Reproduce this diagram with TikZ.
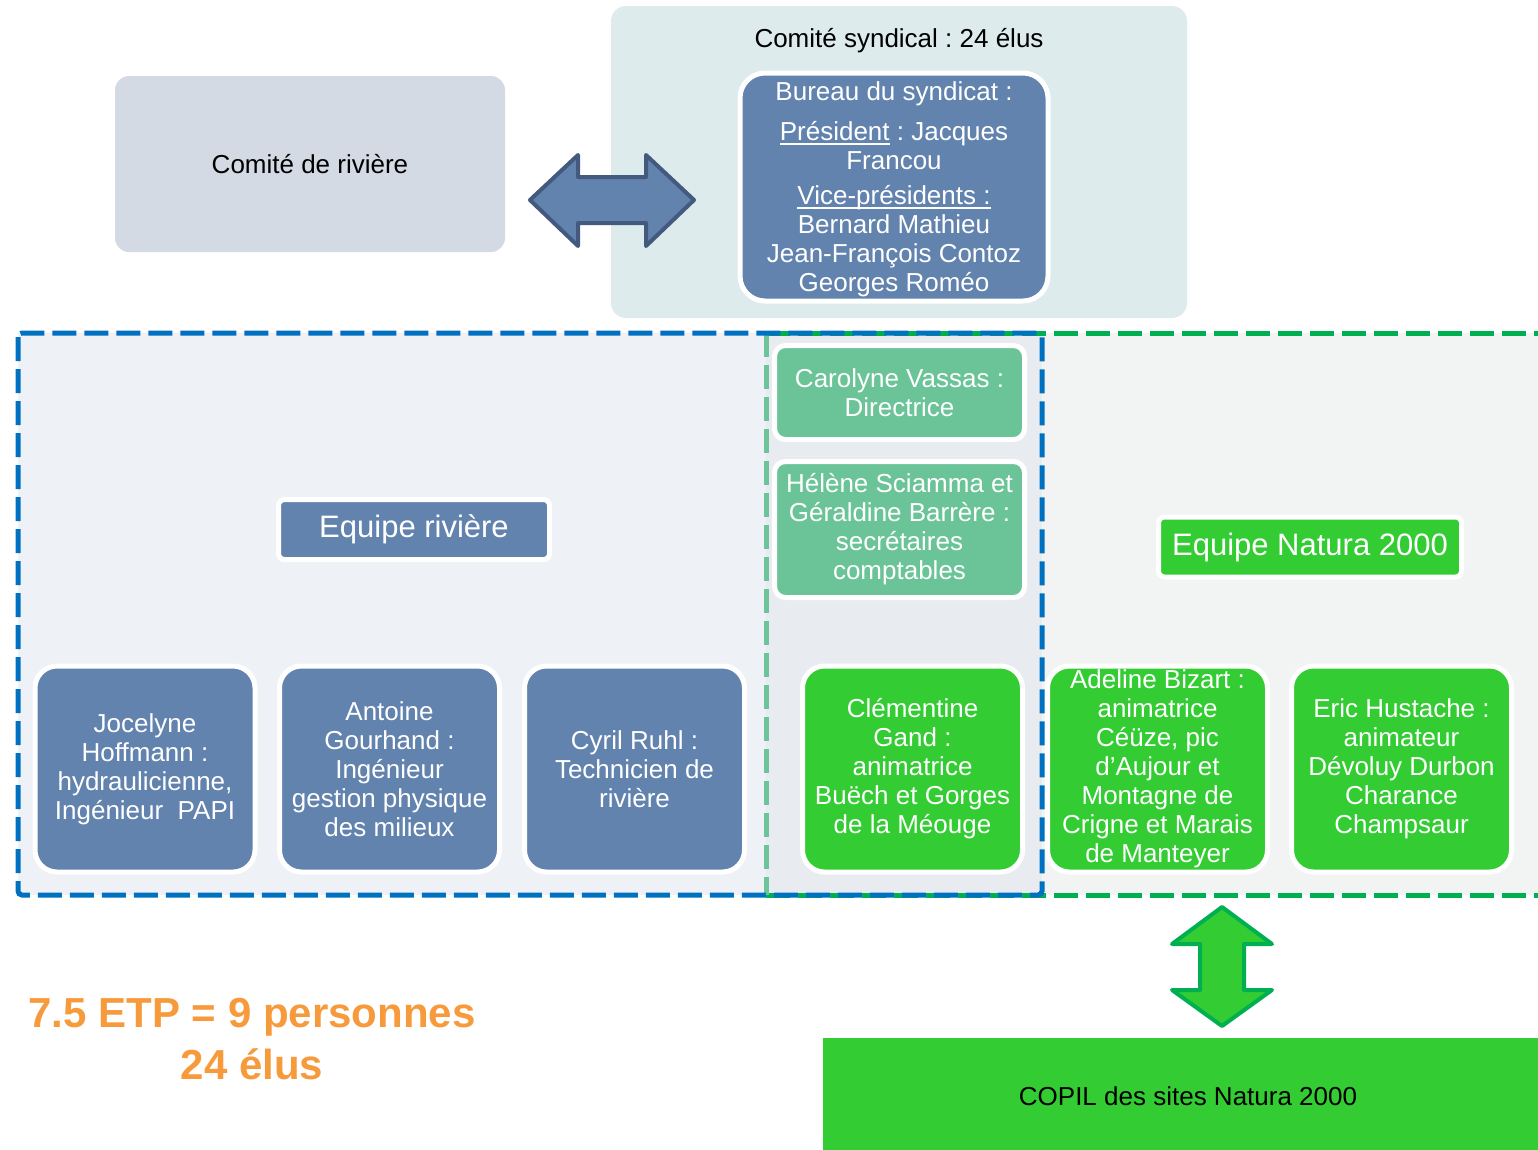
\documentclass[tikz,border=0pt]{standalone}
\usepackage{fontspec}
\setmainfont{Liberation Sans}
\frenchspacing
\definecolor{boxblue}{HTML}{6283AE}
\definecolor{arrowdark}{HTML}{435A7E}
\definecolor{boxgreen}{HTML}{33CC33}
\definecolor{framegreen}{HTML}{00B050}
\definecolor{framegreenlight}{HTML}{6DC49B}
\definecolor{frameblue}{HTML}{0070C0}
\definecolor{seagreen}{HTML}{6BC497}
\definecolor{riviergray}{HTML}{D3DAE3}
\definecolor{syndbg}{HTML}{DDEBEC}
\definecolor{bluebg}{HTML}{EEF1F6}
\definecolor{greenbg}{HTML}{F2F4F4}
\definecolor{overlapbg}{HTML}{E8ECF1}
\definecolor{orangetxt}{HTML}{F79A3C}
\newcommand{\myul}[1]{\leavevmode\setbox0\hbox{#1}\rlap{\vrule width\wd0 height -2.4pt depth 3.8pt}\box0\relax}
\begin{document}
\begin{tikzpicture}[x=1pt,y=-1pt,
  txt/.style={font=\fontsize{26}{29}\selectfont, align=center, inner sep=0pt},
  person/.style={txt, draw=white, line width=5pt, rounded corners=22pt, text=white,
    minimum width=220pt, minimum height=206pt},
  bluep/.style={person, fill=boxblue},
  greenp/.style={person, fill=boxgreen},
  seabox/.style={txt, draw=white, line width=5pt, rounded corners=11pt, text=white,
    fill=seagreen, minimum width=250pt},
  teamlabel/.style={draw=white, line width=5pt, rounded corners=6pt, text=white,
    font=\fontsize{31}{36}\selectfont, inner sep=0pt, minimum height=60pt},
  frameline/.style={line width=5pt, dash pattern=on 24pt off 8pt},
  blockarrow/.style={line width=4pt, line join=round}
]
\useasboundingbox (0,0) rectangle (1538,1149);
\clip (0,0) rectangle (1538,1149);

% ---- top part ----
\node[fill=riviergray, rounded corners=14pt, minimum width=390pt, minimum height=176pt,
  txt] (comriv) at (310,164) {Comité de rivière};

\node[fill=syndbg, rounded corners=15pt, minimum width=576pt, minimum height=312pt,
  inner sep=0pt] (syndbg) at (899,162) {};
\node[txt, anchor=base] (syndtitle) at (899,47) {Comité syndical : 24 élus};

\node[draw=white, line width=5pt, rounded corners=25pt, fill=boxblue,
  minimum width=308pt, minimum height=228pt, inner sep=0pt] (bureau) at (894,187) {};
\node[txt, text=white] (bureautxt) at (894,189.5)
  {Bureau du syndicat :\\[11pt]\myul{Président} : Jacques\\Francou\\[6pt]%
   \myul{Vice-présidents :}\\Bernard Mathieu\\Jean-François Contoz\\Georges Roméo};

% horizontal double block arrow between comriv and bureau
\coordinate (hL) at (530,200);
\coordinate (hR) at (694,200);
\draw[blockarrow, draw=arrowdark, fill=boxblue]
  (hL) -- (578,155) -- (578,177) -- (646,177) -- (646,155) -- (hR)
  -- (646,246) -- (646,223) -- (578,223) -- (578,246) -- cycle;

% ---- team frames ----
\fill[greenbg] (766,333) rectangle (1560,895);
\fill[bluebg] (18,333) rectangle (1042,895);
\fill[overlapbg] (766,333) rectangle (1042,895);
\draw[frameline, framegreen] (766,333) -- (1560,333);
\draw[frameline, framegreen] (766,895) -- (1560,895);
\draw[frameline, framegreenlight] (766,333) -- (766,895);
\draw[frameline, frameblue, rounded corners=4pt] (18,333) rectangle (1042,895);

% ---- staff ----
\node[seabox, minimum height=94pt] (vassas) at (899.5,392.5)
  {Carolyne Vassas :\\Directrice};
\node[seabox, minimum height=136pt] (sciamma) at (899.5,529.5)
  {Hélène Sciamma et\\Géraldine Barrère :\\secrétaires\\comptables};

\node[teamlabel, fill=boxblue, minimum width=271pt] (eqriv) at (414,529.5) {Equipe rivière};
\node[teamlabel, fill=boxgreen, minimum width=303pt] (eqnat) at (1310,547) {Equipe Natura 2000};

\node[bluep] (hoffmann) at (145,769)
  {Jocelyne\\Hoffmann :\\hydraulicienne,\\Ingénieur\ \ PAPI};
\node[bluep] (gourhand) at (389.5,769)
  {Antoine\\Gourhand :\\Ingénieur\\gestion physique\\des milieux};
\node[bluep] (ruhl) at (634.5,769)
  {Cyril Ruhl :\\Technicien de\\rivière};
\node[greenp] (gand) at (912.5,769)
  {Clémentine\\Gand :\\animatrice\\Buëch et Gorges\\de la Méouge};
\node[greenp] (bizart) at (1157.5,769)
  {Adeline Bizart :\\animatrice\\Céüze, pic\\d’Aujour et\\Montagne de\\Crigne et Marais\\de Manteyer};
\node[greenp] (hustache) at (1401.5,769)
  {Eric Hustache :\\animateur\\Dévoluy Durbon\\Charance\\Champsaur};

% ---- bottom ----
\node[txt, fill=boxgreen, minimum width=730pt, minimum height=116pt] (copil) at (1188,1096)
  {COPIL des sites Natura 2000};

% vertical double block arrow between Natura team and COPIL
\coordinate (vT) at (1222,907);
\coordinate (vB) at (1222,1026);
\draw[blockarrow, draw=framegreen, fill=boxgreen]
  (vT) -- (1272,944) -- (1244,944) -- (1244,990) -- (1272,990) -- (vB)
  -- (1172,990) -- (1200,990) -- (1200,944) -- (1172,944) -- cycle;

\node[align=center, inner sep=0pt, text=orangetxt,
  font=\fontsize{42}{52}\selectfont\bfseries] (etp) at (252,1039)
  {7.5 ETP = 9 personnes\\24 élus};
\end{tikzpicture}
\end{document}
